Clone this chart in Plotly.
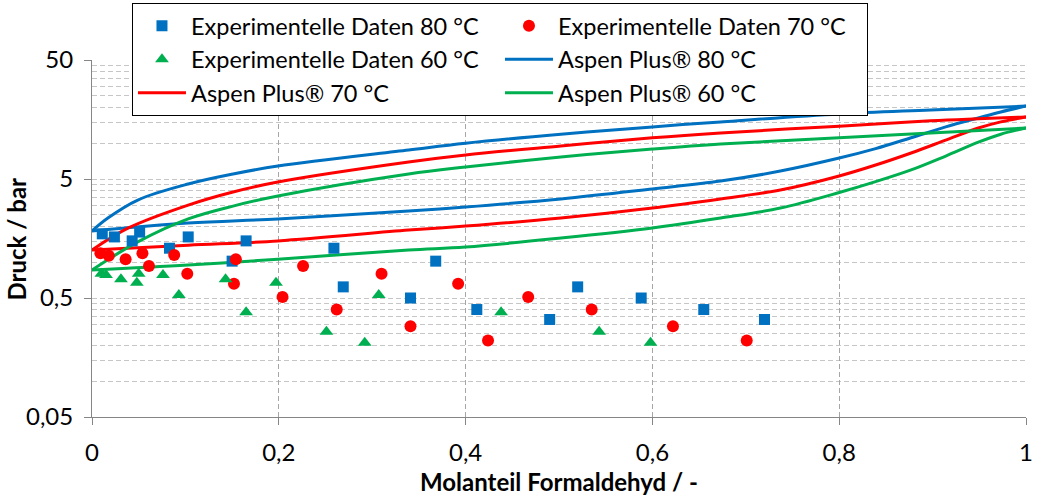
import numpy as np
import plotly.graph_objects as go

FONT = "Lato"
BLUE = "#0070C0"
RED = "#FF0000"
GREEN = "#00B050"

# Experimental vapour-liquid equilibrium data (mole fraction formaldehyde, pressure in bar)
x_exp_80 = [0.011, 0.024, 0.043, 0.051, 0.083, 0.103, 0.150, 0.165, 0.259,
            0.269, 0.341, 0.368, 0.412, 0.490, 0.520, 0.588, 0.655, 0.720]
p_exp_80 = [1.73, 1.63, 1.51, 1.79, 1.31, 1.63, 1.02, 1.51, 1.31,
            0.62, 0.50, 1.02, 0.40, 0.33, 0.62, 0.50, 0.40, 0.33]

x_exp_70 = [0.009, 0.018, 0.036, 0.054, 0.061, 0.088, 0.102, 0.154, 0.152, 0.204,
            0.226, 0.262, 0.310, 0.341, 0.392, 0.424, 0.467, 0.535, 0.622, 0.701]
p_exp_70 = [1.19, 1.13, 1.06, 1.19, 0.93, 1.15, 0.80, 1.06, 0.66, 0.51,
            0.93, 0.40, 0.80, 0.29, 0.66, 0.22, 0.51, 0.40, 0.29, 0.22]

x_exp_60 = [0.010, 0.015, 0.031, 0.048, 0.050, 0.076, 0.093, 0.143,
            0.165, 0.197, 0.251, 0.292, 0.307, 0.438, 0.543, 0.598]
p_exp_60 = [0.80, 0.78, 0.72, 0.67, 0.80, 0.78, 0.53, 0.72,
            0.38, 0.67, 0.26, 0.21, 0.53, 0.38, 0.26, 0.21]

# Aspen Plus model: bubble-point (upper) and dew-point (lower) curves
x_bub_80 = [0, 0.017, 0.049, 0.103, 0.151, 0.199, 0.339, 0.400, 0.502, 0.600, 0.673, 0.800, 0.898, 1.0]
p_bub_80 = [1.83, 2.35, 3.33, 4.54, 5.51, 6.43, 8.77, 10.0, 11.9, 13.7, 15.1, 17.6, 19.0, 20.5]
x_dew_80 = [0, 0.103, 0.199, 0.339, 0.400, 0.502, 0.600, 0.673, 0.737, 0.800, 0.839, 0.877, 0.914, 0.949, 0.973, 1.0]
p_dew_80 = [1.83, 2.13, 2.31, 2.69, 2.91, 3.40, 4.12, 4.80, 5.83, 7.50, 9.00, 11.1, 13.7, 16.3, 18.3, 20.5]

x_bub_70 = [0, 0.039, 0.103, 0.151, 0.199, 0.339, 0.400, 0.502, 0.600, 0.673, 0.800, 0.898, 1.0]
p_bub_70 = [1.265, 1.94, 3.02, 3.89, 4.72, 6.95, 7.96, 9.47, 11.1, 12.2, 13.9, 15.4, 16.6]
x_dew_70 = [0, 0.103, 0.199, 0.339, 0.400, 0.502, 0.600, 0.673, 0.737, 0.800, 0.839, 0.877, 0.914, 0.949, 0.973, 1.0]
p_dew_70 = [1.265, 1.39, 1.51, 1.86, 2.01, 2.35, 2.85, 3.40, 4.04, 5.30, 6.55, 8.27, 10.6, 13.4, 15.1, 16.6]

x_bub_60 = [0, 0.049, 0.103, 0.151, 0.199, 0.339, 0.400, 0.502, 0.600, 0.673, 0.800, 0.898, 1.0]
p_bub_60 = [0.86, 1.48, 2.31, 2.96, 3.60, 5.51, 6.31, 7.66, 8.93, 9.84, 11.1, 12.2, 13.4]
x_dew_60 = [0, 0.103, 0.199, 0.339, 0.400, 0.502, 0.600, 0.673, 0.737, 0.800, 0.839, 0.877, 0.914, 0.949, 0.973, 1.0]
p_dew_60 = [0.86, 0.946, 1.06, 1.265, 1.34, 1.595, 1.94, 2.35, 2.85, 3.85, 4.75, 5.96, 7.80, 10.2, 11.9, 13.4]

y_tick_vals = [0.05, 0.5, 5, 50]
y_tick_text = ["0,05", "0,5", "5", "50"]

fig = go.Figure()

# model curves first, so the measured points are drawn on top
model = [
    ("Aspen Plus® 80 °C", BLUE, x_bub_80, p_bub_80, x_dew_80, p_dew_80, 4),
    ("Aspen Plus® 70 °C", RED, x_bub_70, p_bub_70, x_dew_70, p_dew_70, 5),
    ("Aspen Plus® 60 °C", GREEN, x_bub_60, p_bub_60, x_dew_60, p_dew_60, 6),
]
for name, col, xb, pb, xd, pd_, rank in model:
    fig.add_trace(go.Scatter(
        x=xb + [None] + xd, y=pb + [None] + pd_, mode="lines", name=name,
        line=dict(color=col, width=3, shape="spline", smoothing=1.0),
        legendrank=rank, connectgaps=False,
    ))

fig.add_trace(go.Scatter(
    x=x_exp_80, y=p_exp_80, mode="markers", name="Experimentelle Daten 80 °C",
    marker=dict(symbol="square", size=11, color=BLUE), legendrank=1))
fig.add_trace(go.Scatter(
    x=x_exp_70, y=p_exp_70, mode="markers", name="Experimentelle Daten 70 °C",
    marker=dict(symbol="circle", size=12, color=RED), legendrank=2))
fig.add_trace(go.Scatter(
    x=x_exp_60, y=p_exp_60, mode="markers", name="Experimentelle Daten 60 °C",
    marker=dict(symbol="triangle-up", size=12, color=GREEN), legendrank=3))

minor_vals = [b * k for b in (0.05, 0.5, 5) for k in range(2, 10)]
grid_dash = "5px,3px"
tick_font = dict(family=FONT, size=24, color="black")

fig.update_layout(
    width=1040, height=495,
    margin=dict(l=92, r=14, t=60, b=78, autoexpand=False),
    paper_bgcolor="white", plot_bgcolor="white",
    separators=",.",
    font=dict(family=FONT, size=24, color="black"),
    showlegend=True,
    legend=dict(
        orientation="h", x=0.0428, y=1.1597, xanchor="left", yanchor="top",
        bgcolor="white", bordercolor="black", borderwidth=1,
        entrywidth=304, entrywidthmode="pixels", itemwidth=48,
        font=dict(family=FONT, size=23.5, color="black"),
        traceorder="normal",
    ),
    xaxis=dict(
        range=[0, 1], tick0=0, dtick=0.2, zeroline=False,
        showgrid=True, gridcolor="#A6A6A6", gridwidth=1, griddash=grid_dash,
        showline=True, linecolor="#868686", linewidth=1,
        ticks="outside", ticklen=7, tickcolor="#868686",
        ticklabelstandoff=7, tickfont=tick_font,
    ),
    yaxis=dict(
        type="log", range=[np.log10(0.05), np.log10(50)],
        tickmode="array", tickvals=y_tick_vals, ticktext=y_tick_text,
        showgrid=True, gridcolor="#C6C6C6", gridwidth=1, griddash=grid_dash,
        minor=dict(tickmode="array", tickvals=minor_vals, showgrid=True,
                   gridcolor="#C6C6C6", gridwidth=1, griddash=grid_dash, ticks=""),
        showline=True, linecolor="#868686", linewidth=1, zeroline=False,
        ticks="outside", ticklen=7, tickcolor="#868686",
        ticklabelstandoff=6, tickfont=tick_font,
    ),
    annotations=[
        dict(text="<b>Molanteil Formaldehyd / -</b>", xref="paper", yref="paper",
             x=0.5, y=-0.182, xanchor="center", yanchor="middle", showarrow=False,
             font=dict(family=FONT, size=24, color="black")),
        dict(text="<b>Druck / bar</b>", xref="paper", yref="paper",
             x=-0.0803, y=0.5, xanchor="center", yanchor="middle", showarrow=False,
             textangle=-90, font=dict(family=FONT, size=24, color="black")),
    ],
)

fig.write_html("out.html")
